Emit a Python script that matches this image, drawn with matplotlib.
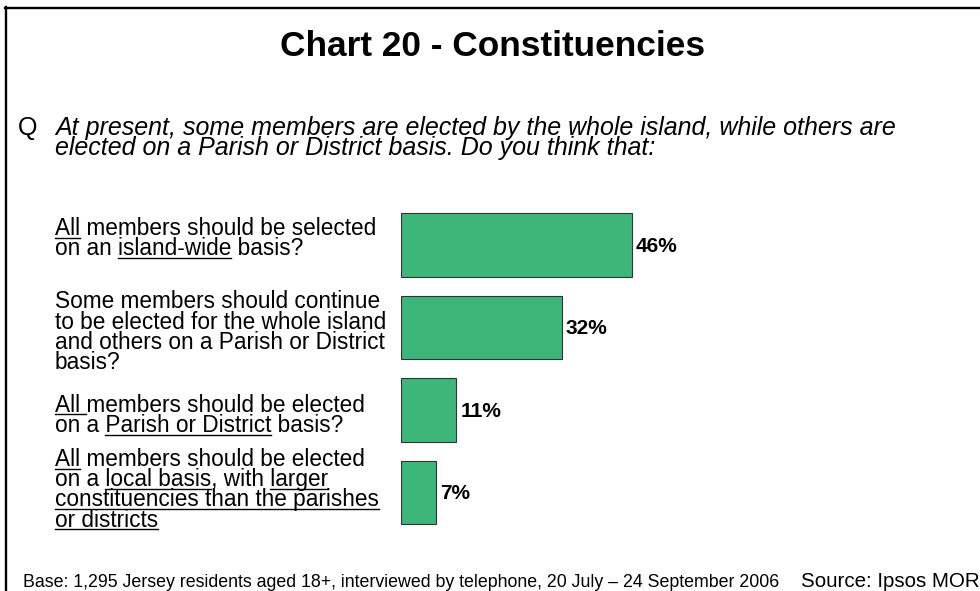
import matplotlib
matplotlib.use("Agg")
import matplotlib.pyplot as plt
from matplotlib.lines import Line2D

plt.rcParams['font.family'] = ['Liberation Sans', 'DejaVu Sans']

# Data
values = [46, 32, 11, 7]
value_labels = ['46%', '32%', '11%', '7%']
# each answer: list of lines, each line a list of (text, underlined)
answers = [
    [[('All', True), (' members should be selected', False)],
     [('on an ', False), ('island-wide', True), (' basis?', False)]],
    [[('Some members should continue', False)],
     [('to be elected for the whole island', False)],
     [('and others on a Parish or District', False)],
     [('basis?', False)]],
    [[('All ', True), ('members should be elected', False)],
     [('on a ', False), ('Parish or District', True), (' basis?', False)]],
    [[('All', True), (' members should be elected', False)],
     [('on a ', False), ('local basis', True), (', with ', False), ('larger', True)],
     [('constituencies than the parishes', True)],
     [('or districts', True)]],
]
title = 'Chart 20 - Constituencies'
question = ['At present, some members are elected by the whole island, while others are',
            'elected on a Parish or District basis. Do you think that:']
base_note = 'Base: 1,295 Jersey residents aged 18+, interviewed by telephone, 20 July \u2013 24 September 2006'
source_note = 'Source: Ipsos MORI'

W, H = 980, 591
bar_color = '#3db679'


def fx(x):
    return x / W


def fy(y):
    return 1 - y / H


fig = plt.figure(figsize=(W / 100, H / 100), dpi=100)
renderer = fig.canvas.get_renderer()

# frame lines (top and left)
fig.add_artist(Line2D([fx(5), fx(W)], [fy(8), fy(8)], color='black', lw=1.7))
fig.add_artist(Line2D([fx(6), fx(6)], [fy(7), fy(H)], color='black', lw=1.7))

# title and question
fig.text(fx(492.5), fy(56.5), title, ha='center', va='baseline', fontsize=25.4, fontweight='bold')
fig.text(fx(18), fy(135), 'Q', ha='left', va='baseline', fontsize=18)
for i, line in enumerate(question):
    fig.text(fx(55), fy(135 + i * 19.5), line, ha='left', va='baseline',
             fontsize=18, style='italic')

# bars
ax = fig.add_axes([fx(401), fy(534), 502 / W, (534 - 203.75) / H])
pos = list(range(len(values)))
ax.barh(pos, values, height=0.768, color=bar_color, edgecolor='#333333', linewidth=0.8)
ax.set_xlim(0, 100)
ax.set_ylim(3.5, -0.5)
ax.axis('off')
for p, v, lab in zip(pos, values, value_labels):
    ax.annotate(lab, (v, p), xytext=(4, -1), textcoords='offset pixels',
                ha='left', va='center', fontsize=15, fontweight='bold')

# answer labels with underlines
label_size = 16.3
first_baselines = [235, 308.5, 411.5, 466]
line_step = 20.2


def text_width(s):
    t = fig.text(0, 0, s + '|', fontsize=label_size)
    w = t.get_window_extent(renderer).width
    t.remove()
    t = fig.text(0, 0, '|', fontsize=label_size)
    w -= t.get_window_extent(renderer).width
    t.remove()
    return w


for ans, b0 in zip(answers, first_baselines):
    for j, segs in enumerate(ans):
        y = b0 + j * line_step
        full = ''.join(s for s, _ in segs)
        fig.text(fx(55), fy(y), full, ha='left', va='baseline', fontsize=label_size)
        x = 55
        for s, ul in segs:
            w = text_width(s)
            if ul:
                fig.add_artist(Line2D([fx(x), fx(x + w)], [fy(y + 2.8), fy(y + 2.8)],
                                      color='black', lw=1.0))
            x += w

# footer
fig.text(fx(23), fy(587), base_note, ha='left', va='baseline', fontsize=12.8)
fig.text(fx(801), fy(587), source_note, ha='left', va='baseline', fontsize=14.8)

fig.savefig('out.png', dpi=100)
